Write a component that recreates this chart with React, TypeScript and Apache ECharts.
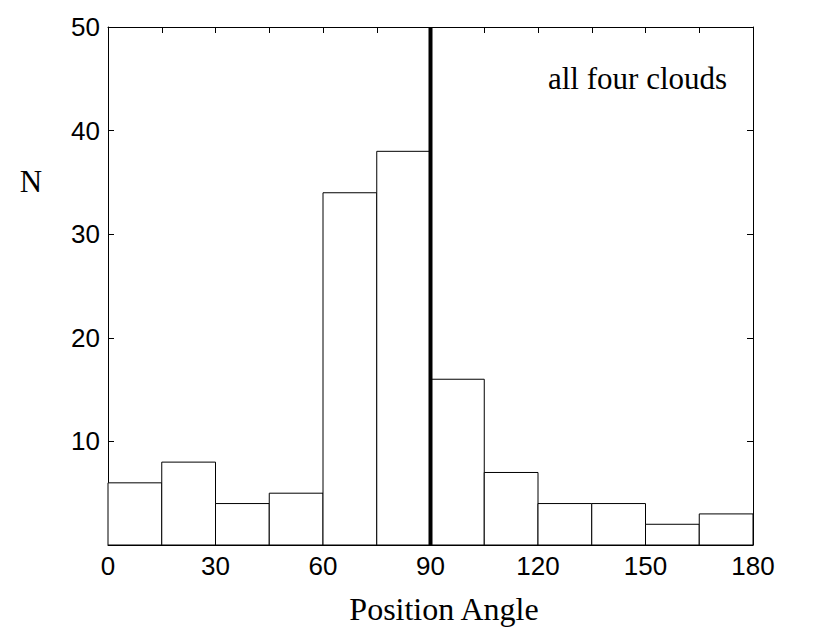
import { useEffect, useRef } from 'react';
import * as echarts from 'echarts';

const binStarts = [0, 15, 30, 45, 60, 75, 90, 105, 120, 135, 150, 165];
const binWidth = 15;
const counts = [6, 8, 4, 5, 34, 38, 16, 7, 4, 4, 2, 3];
const xLabelStep = 30;
const markerAngle = 90;
const xLabel = 'Position Angle';
const yLabel = 'N';
const annotation = 'all four clouds';

export default function App() {
  const ref = useRef<HTMLDivElement>(null);
  useEffect(() => {
    document.body.style.margin = '0';
    const chart = echarts.init(ref.current!, null, { renderer: 'svg' });
    const sans = 'Liberation Sans, Arial, sans-serif';
    const serif = 'Liberation Serif, Times New Roman, serif';
    const axisCommon = {
      type: 'value' as const,
      axisLine: { show: true, onZero: false, lineStyle: { color: '#000', width: 1 } },
      axisTick: { show: true, inside: true, length: 6, lineStyle: { color: '#000', width: 1 } },
      splitLine: { show: false },
    };
    chart.setOption({
      animation: false,
      backgroundColor: '#fff',
      grid: { left: 108, top: 27, width: 645, height: 518 },
      xAxis: [
        {
          ...axisCommon,
          position: 'bottom',
          min: 0,
          max: 180,
          interval: 15,
          axisLabel: {
            show: true,
            color: '#000',
            fontFamily: sans,
            fontSize: 26,
            margin: 8,
            formatter: (v: number) => (v % xLabelStep === 0 ? String(v) : ''),
          },
        },
        {
          ...axisCommon,
          position: 'top',
          min: 0,
          max: 180,
          interval: 15,
          axisLabel: { show: false },
        },
      ],
      yAxis: [
        {
          ...axisCommon,
          position: 'left',
          min: 0,
          max: 50,
          interval: 10,
          axisLabel: {
            show: true,
            color: '#000',
            fontFamily: sans,
            fontSize: 26,
            margin: 8,
            formatter: (v: number) => (v === 0 ? '' : String(v)),
          },
        },
        {
          ...axisCommon,
          position: 'right',
          min: 0,
          max: 50,
          interval: 10,
          axisLabel: { show: false },
        },
      ],
      series: [
        {
          type: 'custom',
          xAxisIndex: 0,
          yAxisIndex: 0,
          data: binStarts.map((s, i) => [s, s + binWidth, counts[i]]),
          encode: { x: [0, 1], y: 2 },
          renderItem: (_params: any, api: any) => {
            const x0 = api.value(0);
            const x1 = api.value(1);
            const y = api.value(2);
            const p0 = api.coord([x0, y]);
            const p1 = api.coord([x1, 0]);
            return {
              type: 'rect',
              shape: { x: p0[0], y: p0[1], width: p1[0] - p0[0], height: p1[1] - p0[1] },
              style: { fill: '#fff', stroke: '#000', lineWidth: 1 },
            };
          },
          z: 2,
        },
        {
          type: 'line',
          xAxisIndex: 0,
          yAxisIndex: 0,
          data: [
            [markerAngle, 0],
            [markerAngle, 50],
          ],
          symbol: 'none',
          lineStyle: { color: '#000', width: 4 },
          z: 5,
        },
      ],
      graphic: [
        {
          type: 'text',
          x: 31,
          y: 181,
          style: {
            text: yLabel,
            font: `31px ${serif}`,
            fill: '#000',
            textAlign: 'center',
            textVerticalAlign: 'middle',
          },
        },
        {
          type: 'text',
          x: 444,
          y: 609,
          style: {
            text: xLabel,
            font: `32px ${serif}`,
            fill: '#000',
            textAlign: 'center',
            textVerticalAlign: 'middle',
          },
        },
        {
          type: 'text',
          x: 548,
          y: 78,
          style: {
            text: annotation,
            font: `31px ${serif}`,
            fill: '#000',
            textAlign: 'left',
            textVerticalAlign: 'middle',
          },
        },
      ],
    });
    return () => chart.dispose();
  }, []);
  return <div ref={ref} style={{ width: 830, height: 644 }} />;
}
